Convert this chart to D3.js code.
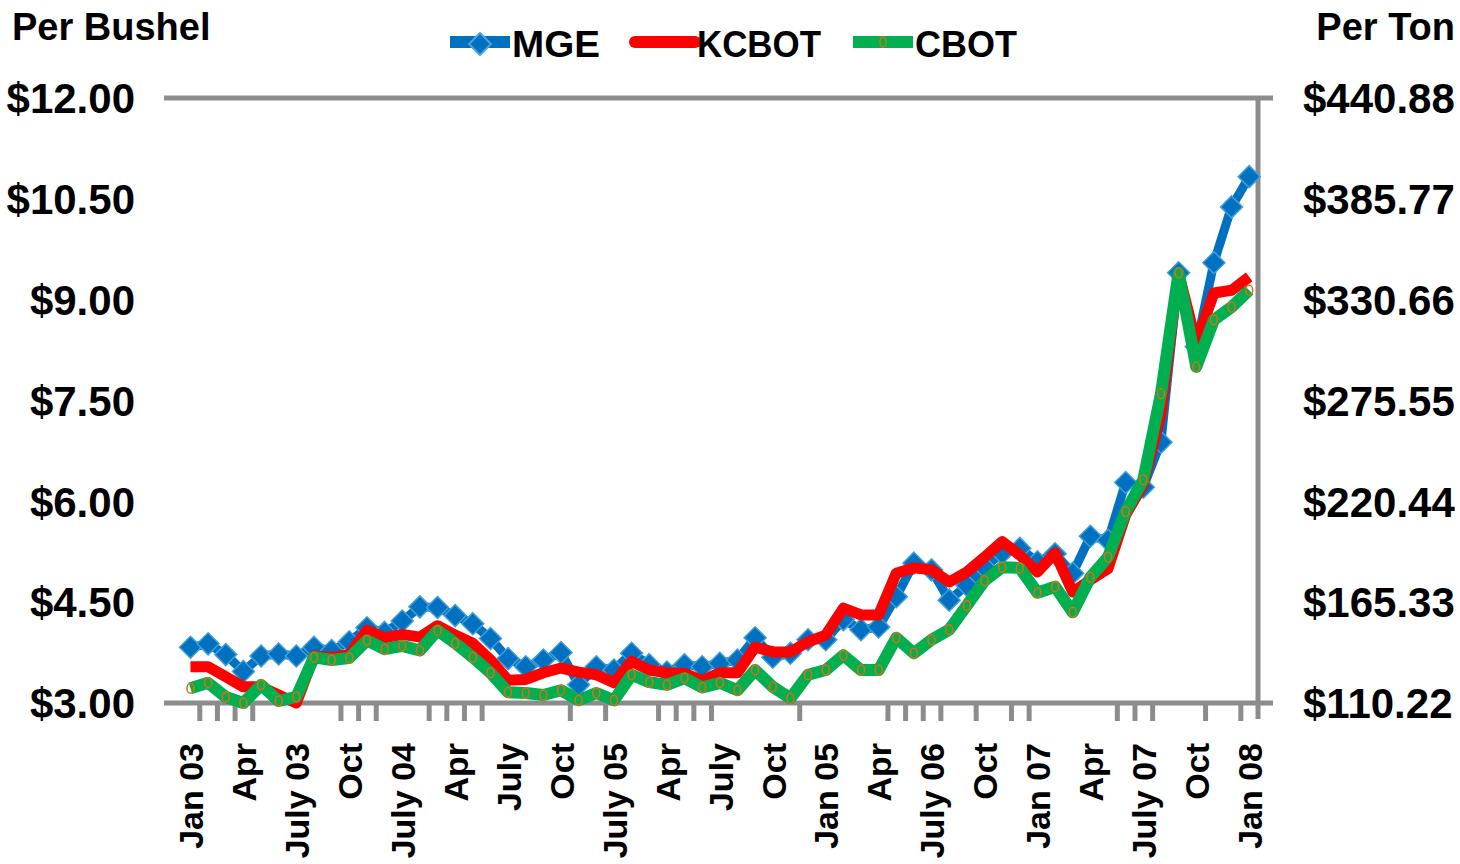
<!DOCTYPE html>
<html><head><meta charset="utf-8">
<script src="https://cdn.jsdelivr.net/npm/d3@7"></script>
<style>
body{margin:0;background:#fff}
svg{display:block}
text{font-family:"Liberation Sans",Arial,sans-serif;font-weight:bold;fill:#000}
</style>
</head><body>
<svg id="chart" width="1460" height="864"></svg>
<script>
// ---- data (monthly, Jan 03 .. Jan 08), $ per bushel ----
const mge = [3.83,3.88,3.72,3.47,3.70,3.73,3.70,3.83,3.78,3.91,4.12,4.05,4.22,4.43,4.42,4.30,4.18,3.96,3.66,3.54,
             3.64,3.75,3.27,3.54,3.49,3.74,3.57,3.46,3.57,3.54,3.59,3.64,3.97,3.68,3.74,3.94,3.94,4.24,4.09,4.13,
             4.58,5.08,4.98,4.53,4.75,5.02,5.23,5.30,5.10,5.22,4.93,5.48,5.42,6.28,6.21,6.88,9.40,8.30,9.55,10.38,10.83];
const kcbot = [3.54,3.54,3.39,3.24,3.24,3.12,3.00,3.70,3.68,3.72,4.08,3.97,4.02,3.98,4.15,4.01,3.89,3.64,3.34,3.35,
               3.45,3.52,3.46,3.42,3.30,3.62,3.49,3.45,3.44,3.33,3.45,3.45,3.83,3.76,3.76,3.91,4.01,4.41,4.31,4.31,
               4.93,5.01,4.98,4.80,4.95,5.17,5.40,5.20,4.95,5.23,4.65,4.83,5.00,5.80,6.25,7.30,9.40,8.35,9.10,9.14,9.34];
const cbot = [3.22,3.30,3.09,3.00,3.27,3.03,3.09,3.68,3.64,3.67,3.93,3.80,3.85,3.78,4.08,3.89,3.68,3.45,3.16,3.15,
              3.12,3.19,3.04,3.15,3.04,3.42,3.31,3.27,3.37,3.23,3.30,3.19,3.49,3.24,3.07,3.42,3.49,3.71,3.49,3.49,
              3.97,3.74,3.94,4.09,4.45,4.82,5.02,5.01,4.64,4.73,4.35,4.87,5.17,5.85,6.32,7.60,9.40,8.00,8.70,8.89,9.14];
const seriesNames = ["MGE","KCBOT","CBOT"];
// category labels shown every 3rd month
const xLabels = ["Jan 03","Apr","July 03","Oct","July 04","Apr","July","Oct","July 05","Apr","July",
                 "Oct","Jan 05","Apr","July 06","Oct","Jan 07","Apr","July 07","Oct","Jan 08"];
const labelStep = 3;
// categories after which a tick mark is drawn
const tickAfter = [0,1,2,3,8,9,10,13,14,15,16,21,23,26,27,28,29,34,39,40,41,42,44,46,47,52,53,54,57,59];
const leftTicks = [3,4.5,6,7.5,9,10.5,12];
const rightTicks = [110.22,165.33,220.44,275.55,330.66,385.77,440.88];

// ---- layout ----
const svg = d3.select("#chart");
const L = 164, R = 1258, T = 98, B = 703;
const n = mge.length;
const x = d3.scaleLinear().domain([-1.5, n - 0.5]).range([L, R]);
const y = d3.scaleLinear().domain([3, 12]).range([B, T]);
const y2 = d3.scaleLinear().domain([110.22, 440.88]).range([B, T]);
const gray = "#8c8c8c";

// left axis labels
const la = svg.append("g").attr("transform", `translate(135,0)`)
  .call(d3.axisLeft(y).tickValues(leftTicks).tickSize(0).tickPadding(0).tickFormat(d => "$" + d3.format(".2f")(d)));
la.select(".domain").remove();
la.selectAll("text").attr("font-size", 42).attr("font-family", null).attr("dy", "0.35em").attr("x", 0);

// right axis labels
const ra = svg.append("g").attr("transform", `translate(1303,0)`)
  .call(d3.axisRight(y2).tickValues(rightTicks).tickSize(0).tickPadding(0).tickFormat(d => "$" + d3.format(".2f")(d)));
ra.select(".domain").remove();
ra.selectAll("text").attr("font-size", 42).attr("font-family", null).attr("dy", "0.35em").attr("x", 0);

// frame lines
svg.append("line").attr("x1", L).attr("x2", R + 15).attr("y1", T).attr("y2", T).attr("stroke", gray).attr("stroke-width", 5);
svg.append("line").attr("x1", R).attr("x2", R).attr("y1", T).attr("y2", B + 16).attr("stroke", gray).attr("stroke-width", 5);

// bottom axis with tick marks
const ba = svg.append("g").attr("transform", `translate(0,${B})`)
  .call(d3.axisBottom(x).tickValues(tickAfter.map(i => i + 0.5)).tickSize(18).tickSizeOuter(0).tickFormat(""));
ba.select(".domain").remove();
ba.selectAll(".tick line").attr("stroke", gray).attr("stroke-width", 5);
svg.append("line").attr("x1", L).attr("x2", R + 15).attr("y1", B).attr("y2", B).attr("stroke", gray).attr("stroke-width", 5);

// rotated category labels
const labelIdx = xLabels.map((_, k) => k * labelStep);
const lab = svg.append("g").attr("transform", `translate(0,743)`)
  .call(d3.axisBottom(x).tickValues(labelIdx).tickSize(0).tickPadding(0).tickFormat((d, k) => xLabels[k]));
lab.select(".domain").remove();
lab.selectAll("text").attr("font-size", 34).attr("font-family", null)
  .attr("transform", "rotate(-90)").attr("text-anchor", "end").attr("x", 0).attr("y", 0).attr("dy", "0.36em");

// ---- series ----
const line = d3.line().x((d, i) => x(i)).y(d => y(d)).curve(d3.curveLinear);
const diamond = h => `M0,${-h}L${h},0L0,${h}L${-h},0Z`;

// MGE
svg.append("path").datum(mge).attr("d", line).attr("fill", "none").attr("stroke", "#0070C0")
  .attr("stroke-width", 9).attr("stroke-linejoin", "round");
svg.append("g").selectAll("path").data(mge).join("path")
  .attr("transform", (d, i) => `translate(${x(i)},${y(d)})`).attr("d", diamond(11))
  .attr("fill", "#0070C0").attr("stroke", "#3f9fd6").attr("stroke-width", 1.5);

// KCBOT
svg.append("path").datum(kcbot).attr("d", line).attr("fill", "none").attr("stroke", "#FF0000")
  .attr("stroke-width", 11).attr("stroke-linejoin", "round");

// CBOT
svg.append("path").datum(cbot).attr("d", line).attr("fill", "none").attr("stroke", "#00B050")
  .attr("stroke-width", 12).attr("stroke-linejoin", "round");
svg.append("g").selectAll("ellipse").data(cbot).join("ellipse")
  .attr("cx", (d, i) => x(i)).attr("cy", d => y(d)).attr("rx", 3.5).attr("ry", 5)
  .attr("fill", "none").attr("stroke", "#E46C0A").attr("stroke-width", 1.5);

// ---- titles ----
svg.append("text").attr("x", 12).attr("y", 40).attr("font-size", 38).text("Per Bushel");
svg.append("text").attr("x", 1455).attr("y", 40).attr("font-size", 38).attr("text-anchor", "end").text("Per Ton");

// ---- legend ----
const leg = svg.append("g");
const legX = [450, 635, 853];
const legColors = ["#0070C0", "#FF0000", "#00B050"];
seriesNames.forEach((name, k) => {
  const g = leg.append("g").attr("transform", `translate(${legX[k]},42)`);
  g.append("line").attr("x1", 0).attr("x2", 60).attr("y1", 0).attr("y2", 0)
    .attr("stroke", legColors[k]).attr("stroke-width", 12).attr("stroke-linecap", k === 1 ? "round" : "butt");
  if (k === 0) g.append("path").attr("transform", "translate(30,2)").attr("d", diamond(11))
    .attr("fill", "#0070C0").attr("stroke", "#4aa3d8").attr("stroke-width", 2);
  if (k === 2) g.append("ellipse").attr("cx", 30).attr("cy", 0).attr("rx", 3).attr("ry", 5)
    .attr("fill", "none").attr("stroke", "#E46C0A").attr("stroke-width", 1.4);
  g.append("text").attr("x", 62).attr("y", 15).attr("font-size", 37)
    .attr("textLength", [88, 124, 102][k]).attr("lengthAdjust", "spacingAndGlyphs").text(name);
});
</script>
</body></html>
